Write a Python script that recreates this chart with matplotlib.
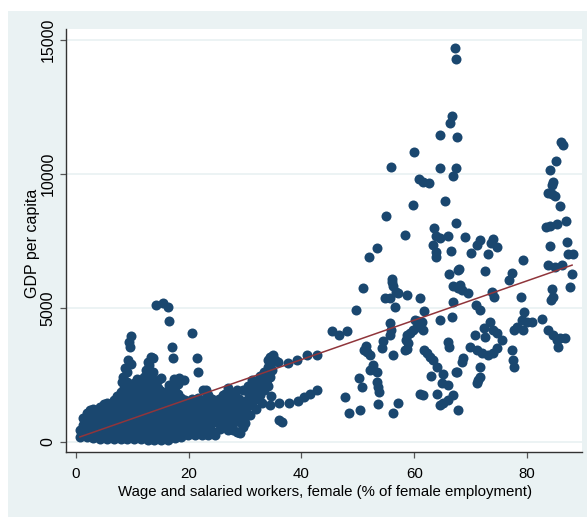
import matplotlib.pyplot as plt
from matplotlib.patches import Rectangle
import numpy as np

# dense cluster of low-wage-share countries: column x -> list of y
blob_cols = [0.8, 1.3, 1.9, 2.5, 3.1, 3.7, 4.3, 4.9, 5.5, 6.1, 6.7, 7.3, 7.9, 8.5,
             9.1, 9.7, 10.3, 10.9, 11.5, 12.1, 12.7, 13.3, 13.9, 14.5, 15.1, 15.7,
             16.3, 16.9, 17.5, 18.1, 18.7, 19.3, 19.9, 20.5, 21.1, 21.7, 22.3, 22.9,
             23.5, 24.1, 24.7, 25.3, 25.9, 26.5, 27.1, 27.7, 28.3, 29.0, 29.9, 30.5,
             31.2, 31.9, 32.6, 33.3, 34.0]
blob_vals = [
    [190, 450],
    [300, 650, 900],
    [200, 500, 800, 1100],
    [350, 650, 950, 1200],
    [150, 450, 750, 1050, 1250],
    [250, 550, 850, 1150],
    [120, 400, 700, 1000, 1300],
    [250, 550, 850, 1150, 1400],
    [100, 400, 700, 1000, 1300, 1450],
    [250, 550, 850, 1150, 1400],
    [100, 400, 700, 1000, 1250, 1550],
    [250, 550, 850, 1150, 1450, 1700],
    [100, 400, 700, 1000, 1300, 1600, 1850],
    [250, 550, 850, 1150, 1450, 1750, 2000],
    [100, 400, 700, 1000, 1300, 1600, 1900, 2250, 2600],
    [250, 550, 850, 1150, 1450, 1750, 2050, 2900],
    [100, 400, 700, 1000, 1300, 1600, 1900, 2200],
    [250, 550, 850, 1150, 1450, 1750, 2050, 2350],
    [100, 400, 700, 1000, 1300, 1600, 1900, 2150],
    [250, 550, 850, 1150, 1450, 1750, 2050],
    [80, 400, 700, 1000, 1300, 1600, 1900, 2200],
    [250, 550, 850, 1150, 1450, 1750, 2000, 2400],
    [80, 400, 700, 1000, 1300, 1600, 1850],
    [250, 550, 850, 1150, 1450, 1750, 2000],
    [80, 400, 700, 1000, 1300, 1600, 1900],
    [250, 550, 850, 1150, 1450, 1750],
    [80, 400, 700, 1000, 1300, 1600, 1900],
    [250, 550, 850, 1150, 1450, 1750, 2050],
    [150, 400, 700, 1000, 1300, 1600, 1900],
    [300, 600, 900, 1200, 1500, 1800, 2150],
    [200, 450, 750, 1050, 1350, 1650],
    [350, 650, 950, 1250, 1550],
    [250, 500, 800, 1100, 1400],
    [400, 700, 1000, 1300, 1600],
    [250, 550, 850, 1150, 1450],
    [400, 700, 1000, 1300, 1650],
    [250, 550, 850, 1150, 1450],
    [400, 700, 1000, 1300, 1600],
    [250, 550, 850, 1150, 1450, 1750],
    [400, 700, 1000, 1300, 1600],
    [250, 850, 1150, 1450],
    [700, 1000, 1300, 1600],
    [850, 1150, 1450],
    [700, 1000, 1300],
    [850, 1150, 1400],
    [600, 950, 1300, 1650],
    [800, 1500],
    [1600],
    [700, 950, 1300],
    [1350, 1850],
    [1450, 2050],
    [1600, 2150],
    [1750, 2450],
    [1950, 2600],
    [2100, 2800],
]

# scattered points above the cluster
left_x = [14.2, 15.4, 16.3, 16.5, 20.6, 9.8, 9.4, 9.6, 17.0, 17.2, 21.5, 21.6,
          13.3, 12.8, 12.4, 12.1, 9.2, 8.7, 8.3, 8.2, 18.3, 19.2, 17.4, 16.5,
          15.1, 14.2, 22.5, 23.1, 26.1, 27.1, 13.7, 12.9, 13.6, 12.3, 14.5, 13.4]
left_y = [5110, 5190, 5040, 4510, 4070, 3960, 3730, 3540, 3540, 3130, 3130, 2610,
          3170, 2990, 2690, 2430, 3060, 2760, 2430, 2240, 2390, 2310, 2350, 2130,
          2390, 2130, 1940, 1940, 1750, 1680, 3150, 2870, 2600, 2330, 2330, 2150]

# middle range, 25-48 %
mid_x = [34.4, 34.9, 34.8, 34.1, 35.3, 35.8, 37.6, 39.2, 41.0, 42.7,
         34.8, 34.4, 33.9, 33.2, 32.6, 32.1, 31.4, 30.9, 30.3, 29.6,
         34.6, 34.4, 36.0, 37.8, 39.4, 40.4, 41.5, 42.7, 36.0, 36.5,
         28.6, 28.7, 29.1, 29.6, 28.7, 27.8, 29.6, 28.6, 27.8,
         27.5, 28.2, 29.0, 30.0, 30.5, 31.2, 31.8, 32.3, 33.0, 32.0, 33.5, 30.8, 27.0, 26.5,
         25.5, 27.0, 28.6, 29.1]
mid_y = [3170, 3250, 2990, 3060, 3060, 2990, 2950, 3060, 3250, 3250,
         2690, 2430, 2310, 2200, 2010, 1940, 1830, 1680, 1570, 1460,
         1720, 1380, 1460, 1460, 1530, 1680, 1790, 1940, 820, 750,
         1190, 1010, 750, 560, 370, 450, 1940, 1940, 1830,
         1500, 1700, 1350, 1200, 2100, 2300, 2000, 1700, 1450, 1250, 2500, 1000, 2000, 1800,
         490, 450, 370, 340]

# high wage-share countries
high_x = [67.2, 67.4, 66.7, 66.3, 64.6, 67.6, 60.0, 55.9, 64.6, 67.4, 66.9, 60.8,
          61.6, 62.6, 65.5, 59.8, 55.0, 67.4, 58.4, 63.5, 63.9, 64.6, 66.0, 63.3,
          63.9, 63.9, 66.5, 53.4, 52.0, 66.2, 67.8, 56.1,
          66.9, 67.8, 50.9, 56.1, 56.2, 54.8, 55.7, 56.8, 57.1, 58.7, 61.0, 66.9,
          49.7, 56.6, 61.7, 64.6, 66.7, 45.4, 46.7, 48.1, 55.7, 55.9, 55.7,
          60.1, 60.7, 61.4, 60.5, 59.8, 59.2, 58.7, 58.5, 58.9, 58.7, 61.6, 54.5,
          54.3, 51.4, 51.1, 51.6, 52.2, 56.2, 58.4, 66.0, 66.2, 61.7, 62.3, 62.8,
          63.3, 52.7, 52.2, 53.4, 64.0, 65.1, 67.4, 63.0, 50.2, 50.7, 53.4, 53.6,
          53.7, 64.9, 66.0, 61.0, 61.6, 64.0, 66.9, 66.0, 65.1, 64.6, 47.7, 53.6,
          57.1, 48.4, 50.4, 56.2, 67.8,
          86.0, 86.4, 85.1, 84.1, 84.6, 84.4, 83.7, 84.4, 85.0, 85.9, 83.4, 84.1,
          85.3, 86.9, 69.0, 71.7, 71.1, 70.1, 74.0, 73.6, 74.7, 73.1, 84.1, 87.1,
          79.3, 72.6, 67.9, 83.7, 85.0, 86.2, 87.3, 88.2, 88.0, 77.3, 76.8, 87.6,
          84.4, 84.6, 84.3, 68.1, 68.5, 69.5, 73.8, 74.1, 78.9, 71.0, 71.7, 79.5,
          79.1, 80.0, 80.9, 82.7, 78.2, 79.3, 77.7, 73.4, 74.0, 74.7, 75.6, 72.4,
          70.8, 72.6, 83.7, 84.6, 85.3, 85.9, 86.7, 85.5, 69.9, 71.1, 72.0, 73.1,
          74.0, 74.7, 68.6, 68.5, 71.7, 77.3, 77.5, 77.7, 71.7, 71.3, 71.1, 67.6]
high_y = [14700, 14290, 12160, 11900, 11460, 11380, 10820, 10260, 10220, 10220, 9930, 9810,
          9700, 9660, 8990, 8840, 8430, 8170, 7720, 7985, 7690, 7610, 7690, 7350,
          7090, 6900, 7130, 7240, 6900, 6270, 6420, 6080,
          5820, 5750, 5750, 5970, 5820, 5370, 5370, 5600, 5560, 5490, 5370, 5220,
          4930, 5040, 4890, 4550, 4660, 4140, 3990, 4140, 4440, 4180, 3990,
          4550, 4510, 4480, 4290, 4180, 4070, 3990, 3810, 3690, 3470, 4180, 3770,
          3510, 3580, 3430, 3360, 3250, 3250, 3430, 3730, 3540, 3430, 3320, 3170,
          3060, 2870, 2690, 2610, 2800, 2540, 2610, 2460, 2390, 2050, 2240, 2050,
          1870, 2200, 2130, 1790, 1750, 1790, 1750, 1570, 1460, 1380, 1680, 1420,
          1460, 1080, 1190, 1080, 1190,
          11190, 11080, 10490, 10150, 9700, 9590, 9290, 9250, 9180, 8810, 8020, 8060,
          8130, 8250, 7650, 7540, 7350, 7050, 7570, 7430, 7280, 7010, 7310, 7460,
          6790, 6380, 6460, 6600, 6530, 6600, 7010, 7010, 6270, 6310, 6040, 5780,
          5710, 5410, 5300, 5860, 5670, 5560, 5600, 5410, 5410, 5110, 4930, 4850,
          4550, 4480, 4480, 4590, 4290, 4180, 4180, 4480, 4180, 4070, 3810, 4250,
          3990, 3920, 4180, 3990, 3810, 3880, 3880, 3540, 3540, 3430, 3320, 3250,
          3320, 3510, 3130, 2990, 2800, 3430, 3060, 2800, 2430, 2310, 2200, 2610]

# fitted values line end points
fit_x = [0.7, 88.0]
fit_y = [190, 6600]

x_ticks = [0, 20, 40, 60, 80]
y_ticks = [0, 5000, 10000, 15000]
x_title = "Wage and salaried workers, female (% of female employment)"
y_title = "GDP per capita"

font = 'Liberation Sans'
W, H = 587, 517
bg = '#eaf2f3'
navy = '#1a476f'

fig = plt.figure(figsize=(W / 100, H / 100), dpi=100, facecolor='white')
fig.patches.append(Rectangle((8 / W, 0), 1 - 8 / W, 1 - 11 / H, transform=fig.transFigure,
                             facecolor=bg, edgecolor='none', zorder=-10))
ax = fig.add_axes([66 / W, 1 - 452 / H, (582 - 66) / W, (452 - 29) / H])
ax.set_facecolor('white')

xs = []
ys = []
for cx, vals in zip(blob_cols, blob_vals):
    for v in vals:
        xs.append(cx)
        ys.append(v)
xs = np.array(xs + left_x + mid_x + high_x)
ys = np.array(ys + left_y + mid_y + high_y)

ax.scatter(xs, ys, s=52, color=navy, linewidths=0, zorder=3)
ax.plot(fit_x, fit_y, color='#90353b', lw=1.1, zorder=4)

ax.set_xlim(-1.77, 89.76)
ax.set_ylim(-373, 15410)
ax.set_xticks(x_ticks)
ax.set_yticks(y_ticks)
ax.grid(axis='y', color=bg, lw=1.3, zorder=0)
ax.set_axisbelow(True)

for s in ['top', 'right']:
    ax.spines[s].set_visible(False)
for s in ['left', 'bottom']:
    ax.spines[s].set_color('#333333')
    ax.spines[s].set_linewidth(1.0)

ax.tick_params(axis='both', direction='out', length=4.5, width=0.9, color='#555555')
ax.tick_params(axis='x', pad=6)
ax.tick_params(axis='y', pad=3)
for lab in ax.get_xticklabels():
    lab.set_fontfamily(font)
    lab.set_fontsize(10.8)
for lab in ax.get_yticklabels():
    lab.set_fontfamily(font)
    lab.set_fontsize(11.5)
    lab.set_rotation(90)
    lab.set_va('center')

fig.text(325 / W, 1 - 492 / H, x_title, family=font, fontsize=10.8,
         ha='center', va='center')
fig.text(33 / W, 1 - 243 / H, y_title, family=font, fontsize=11.5,
         rotation=90, ha='center', va='center')

fig.savefig('out.png', dpi=100, facecolor='white')
